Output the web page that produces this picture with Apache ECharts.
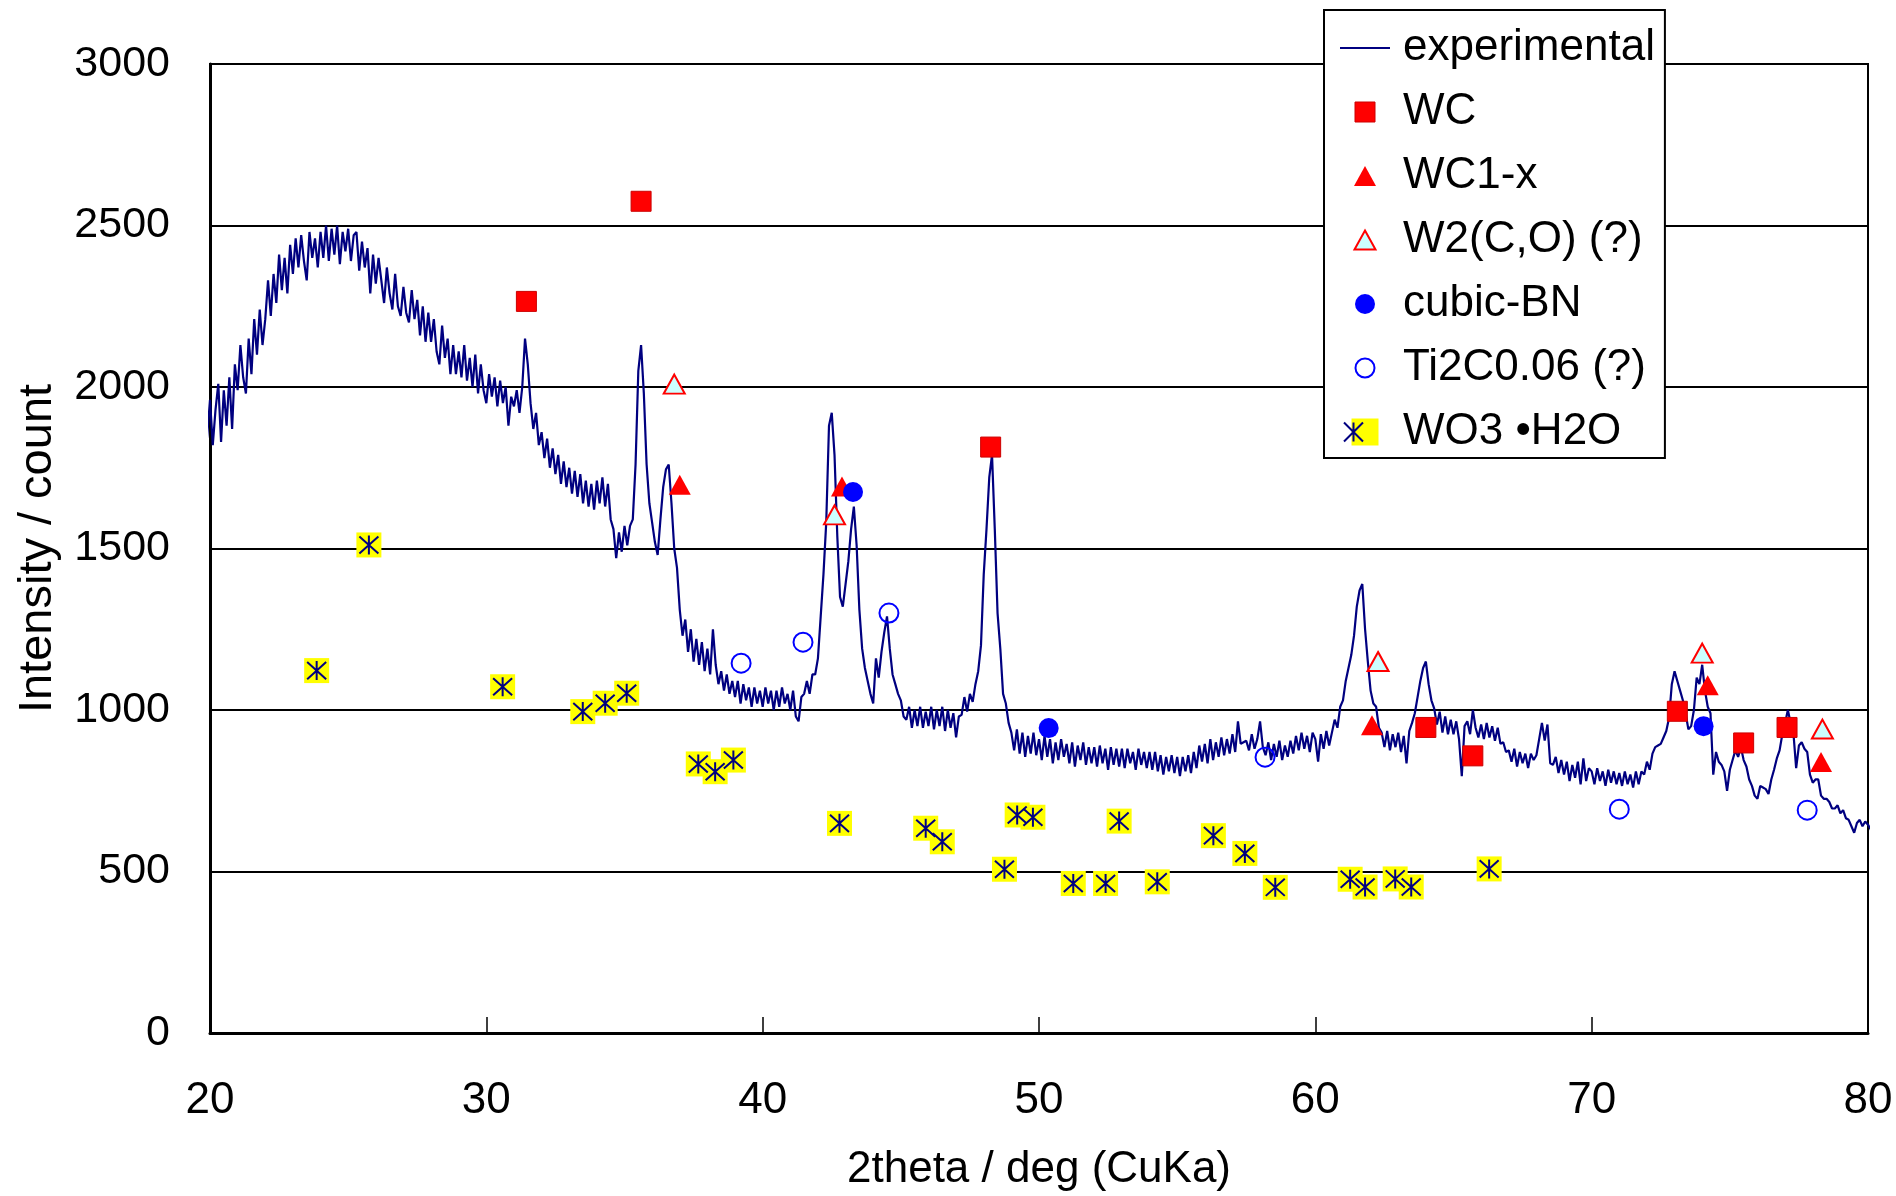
<!DOCTYPE html>
<html>
<head>
<meta charset="utf-8">
<script src="https://cdn.jsdelivr.net/npm/echarts@6/dist/echarts.min.js"></script>
<style>
html,body{margin:0;padding:0;background:#fff;}
#chart{width:1896px;height:1196px;}
</style>
</head>
<body>
<div id="chart"></div>
<script>
// ---- data ----
const xTicks = [20, 30, 40, 50, 60, 70, 80];
const yTicks = [0, 500, 1000, 1500, 2000, 2500, 3000];

// experimental scan: 2theta from 19.6 in steps of 0.1 deg
const scanStart = 19.6;
const scanStep = 0.1;
const experimental = [
  1780, 1690, 1770, 1850,
  1960, 1820, 1930, 2010, 1830, 1990, 1880, 2030, 1870, 2070,
  1990, 2130, 2030, 1980, 2150, 2040, 2210, 2100, 2240, 2130,
  2210, 2330, 2220, 2350, 2260, 2410, 2300, 2400, 2290, 2440,
  2350, 2460, 2370, 2470, 2390, 2330, 2480, 2400, 2460, 2370,
  2480, 2400, 2500, 2390, 2490, 2410, 2500, 2380, 2480, 2420,
  2490, 2390, 2470, 2480, 2360, 2450, 2370, 2430, 2290, 2410,
  2320, 2400, 2330, 2260, 2370, 2290, 2240, 2350, 2250, 2220,
  2310, 2230, 2200, 2300, 2210, 2270, 2160, 2250, 2140, 2230,
  2140, 2210, 2110, 2070, 2190, 2090, 2150, 2040, 2130, 2040,
  2110, 2030, 2130, 2020, 2090, 2000, 2100, 1980, 2070, 1990,
  1950, 2040, 1970, 2030, 1940, 2020, 1950, 2000, 1880, 1970,
  1940, 1990, 1920, 2000, 2150, 2070, 1950, 1870, 1920, 1820,
  1860, 1780, 1840, 1750, 1810, 1730, 1790, 1700, 1770, 1690,
  1750, 1670, 1740, 1660, 1730, 1640, 1710, 1630, 1700, 1620,
  1710, 1640, 1720, 1630, 1700, 1590, 1560, 1470, 1550, 1490,
  1570, 1510, 1570, 1590, 1760, 2050, 2130, 1980, 1760, 1640,
  1580, 1520, 1480, 1590, 1690, 1745, 1760, 1640, 1500, 1440,
  1310, 1230, 1280, 1180, 1250, 1150, 1220, 1140, 1210, 1120,
  1190, 1110, 1250, 1140, 1080, 1120, 1060, 1110, 1050, 1090,
  1040, 1090, 1020, 1080, 1030, 1070, 1010, 1070, 1020, 1060,
  1010, 1070, 1020, 1060, 1000, 1060, 1010, 1070, 1020, 1050,
  1000, 1060, 980, 965, 1040, 1050, 1090, 1050, 1110, 1110,
  1160, 1290, 1420, 1580, 1880, 1920, 1790, 1540, 1350, 1320,
  1390, 1460, 1560, 1630, 1510, 1310, 1190, 1130, 1090, 1050,
  1020, 1160, 1100, 1180, 1240, 1290, 1190, 1110, 1080, 1050,
  1030, 980, 970, 1010, 945, 1000, 950, 1010, 945, 995,
  950, 1010, 940, 1000, 950, 1010, 935, 1000, 945, 990,
  915, 980, 985, 1040, 995, 1050, 1025, 1080, 1120, 1200,
  1420, 1560, 1720, 1790, 1560, 1300, 1190, 1050, 1020, 960,
  930, 875, 940, 865, 930, 855, 920, 865, 930, 860,
  910, 845, 920, 855, 910, 835, 900, 845, 910, 855,
  895, 835, 900, 825, 890, 845, 900, 830, 885, 835,
  885, 825, 890, 835, 880, 815, 885, 830, 880, 825,
  880, 820, 880, 835, 870, 815, 880, 830, 870, 820,
  870, 815, 870, 810, 860, 800, 855, 810, 860, 805,
  855, 795, 855, 810, 860, 805, 870, 820, 890, 840,
  895, 835, 910, 845, 900, 855, 915, 860, 910, 865,
  925, 870, 965, 895, 900, 905, 875, 925, 880, 910,
  965, 885, 860, 900, 845, 895, 855, 905, 845, 890,
  855, 905, 865, 920, 875, 930, 880, 920, 870, 930,
  910, 840, 925, 880, 935, 890, 930, 970, 945, 1010,
  1030, 1090, 1130, 1170, 1230, 1320, 1370, 1390, 1250, 1150,
  1060, 1020, 1010, 945, 930, 885, 935, 875, 925, 885,
  930, 870, 920, 835, 935, 960, 990, 1040, 1090, 1130,
  1150, 1080, 1030, 1005, 955, 995, 930, 980, 925, 970,
  925, 965, 910, 795, 950, 965, 925, 1000, 945, 915,
  955, 910, 960, 915, 950, 905, 945, 895, 900, 870,
  875, 840, 880, 825, 870, 835, 865, 820, 865, 845,
  860, 910, 960, 905, 955, 835, 830, 855, 805, 845,
  800, 840, 780, 830, 790, 840, 770, 850, 780, 820,
  810, 770, 820, 780, 810, 765, 815, 775, 810, 770,
  805, 765, 810, 770, 800, 760, 810, 770, 810, 800,
  840, 815, 865, 885, 890, 895, 915, 935, 975, 1080,
  1120, 1090, 1060, 1030, 990, 940, 950, 1000, 1100, 1080,
  1140, 1060, 1010, 990, 800, 870, 840, 830, 810, 750,
  815, 845, 875, 855, 885, 845, 825, 785, 765, 735,
  725, 765, 760, 755, 740, 785, 815, 850, 875, 925,
  960, 1000, 960, 930, 820, 890, 900, 880, 870, 800,
  775, 785, 785, 735, 725, 725, 715, 695, 695, 705,
  680, 690, 665, 660, 640, 620, 650, 660, 640, 655,
  645, 630, 610, 640, 655
];

// reference peak markers [2theta, intensity]
const WC = [[31.45, 2265], [35.6, 2575], [48.25, 1814], [64.0, 946], [65.7, 858], [73.1, 996], [75.5, 898], [77.07, 946]];
const WC1x = [[37.0, 1697], [42.87, 1692], [62.05, 953], [74.2, 1077], [78.3, 839]];
const W2CO = [[36.8, 2009], [42.6, 1604], [62.27, 1150], [74.0, 1176], [78.35, 941]];
const cubicBN = [[43.27, 1675], [50.35, 944], [74.05, 950]];
const Ti2C = [[39.22, 1145], [41.46, 1210], [44.57, 1300], [58.18, 854], [71.0, 693], [77.8, 690]];
const WO3H2O = [[23.86, 1122], [25.75, 1511], [30.59, 1072], [33.49, 995], [34.3, 1021], [35.08, 1052],
  [37.67, 833], [38.28, 809], [38.94, 845], [42.78, 649], [45.9, 634], [46.5, 592], [48.75, 507],
  [49.21, 675], [49.78, 668], [51.24, 463], [52.41, 463], [52.9, 656], [54.28, 468], [56.31, 611],
  [57.45, 556], [58.55, 451], [61.26, 476], [61.8, 452], [62.89, 477], [63.47, 452], [66.29, 508]];

const seriesNames = ['experimental', 'WC', 'WC1-x', 'W2(C,O) (?)', 'cubic-BN', 'Ti2C0.06 (?)', 'WO3 \u2022H2O'];

// ---- chart ----
const FONT = '"Liberation Sans", Arial, sans-serif';
const expData = experimental.map((v, i) => [+(scanStart + i * scanStep).toFixed(2), v]);
const asterisk = 'path://M10 0L10 20M1 1L19 19M19 1L1 19';

const chart = echarts.init(document.getElementById('chart'), null, {renderer: 'canvas'});
chart.setOption({
  animation: false,
  backgroundColor: '#fff',
  grid: {left: 210, right: 28, top: 64, bottom: 163, show: true, borderColor: '#000', borderWidth: 2,
    backgroundColor: 'transparent', containLabel: false, outerBoundsMode: 'none'},
  xAxis: {
    type: 'value', min: xTicks[0], max: xTicks[xTicks.length - 1], interval: 10,
    name: '2theta / deg (CuKa)', nameLocation: 'middle', nameGap: 115, nameMoveOverlap: false,
    nameTextStyle: {fontSize: 44, color: '#000', fontFamily: FONT},
    axisLine: {show: true, lineStyle: {color: '#000', width: 3}},
    axisTick: {show: true, inside: true, length: 16, lineStyle: {color: '#000', width: 1.5}},
    axisLabel: {fontSize: 44, color: '#000', margin: 46, fontFamily: FONT},
    splitLine: {show: false}
  },
  yAxis: {
    type: 'value', min: yTicks[0], max: yTicks[yTicks.length - 1], interval: 500,
    name: 'Intensity / count', nameLocation: 'middle', nameGap: 148, nameMoveOverlap: false,
    nameTextStyle: {fontSize: 47, color: '#000', fontFamily: FONT},
    axisLine: {show: true, lineStyle: {color: '#000', width: 3}},
    axisTick: {show: true, inside: true, length: 16, lineStyle: {color: '#000', width: 2}},
    axisLabel: {fontSize: 43, color: '#000', margin: 40, fontFamily: FONT, formatter: v => String(v)},
    splitLine: {show: true, lineStyle: {color: '#000', width: 2}}
  },
  legend: [{
    orient: 'vertical', left: 1324, top: 10, padding: [16, 10, 4, 15],
    itemGap: 20, itemWidth: 50, itemHeight: 27,
    backgroundColor: '#fff', borderColor: '#000', borderWidth: 2,
    selectedMode: false,
    textStyle: {fontSize: 44, color: '#000', fontFamily: FONT, padding: [0, 0, 0, 8]},
    data: [
      {name: seriesNames[0], itemStyle: {opacity: 0}, lineStyle: {color: '#000080', width: 2, opacity: 1}},
      {name: seriesNames[1], icon: 'path://M0 0M27 27M3.5 3.5L23.5 3.5L23.5 23.5L3.5 23.5Z', itemStyle: {color: '#ff0000', borderColor: '#cc0000', borderWidth: 1}},
      {name: seriesNames[2], icon: 'path://M0 0M27 27M13.5 3.5L24.5 23.5L2.5 23.5Z', itemStyle: {color: '#ff0000', borderWidth: 0}},
      {name: seriesNames[3], icon: 'path://M0 0M27 27M13.5 4L24 23L3 23Z', itemStyle: {color: '#ccffff', borderColor: '#ff0000', borderWidth: 2}},
      {name: seriesNames[4], icon: 'path://M0 0M27 27M3.5 13.5A10 10 0 1 1 23.5 13.5A10 10 0 1 1 3.5 13.5Z', itemStyle: {color: '#0000ff', borderWidth: 0}},
      {name: seriesNames[5], icon: 'path://M0 0M27 27M4 13.5A9.5 9.5 0 1 1 23 13.5A9.5 9.5 0 1 1 4 13.5Z', itemStyle: {color: 'rgba(0,0,0,0)', borderColor: '#0000ff', borderWidth: 2}},
      {name: seriesNames[6], icon: 'path://M0 0L27 0L27 27L0 27Z', itemStyle: {color: '#ffff00', borderWidth: 0}}
    ]
  }, {
    orient: 'vertical', left: 1324, top: 10 + 6 * 64, padding: [16, 10, 4, 15],
    itemGap: 20, itemWidth: 50, itemHeight: 27,
    backgroundColor: 'transparent', borderWidth: 0,
    selectedMode: false,
    textStyle: {fontSize: 44, color: 'rgba(0,0,0,0)', fontFamily: FONT, padding: [0, 0, 0, 8]},
    data: [
      {name: seriesNames[6], icon: 'path://M0 0M27 27M13.5 4L13.5 23M4 4L23 23M23 4L4 23', itemStyle: {color: 'rgba(0,0,0,0)', borderColor: '#000080', borderWidth: 2}}
    ]
  }],
  series: [
    {name: seriesNames[0], type: 'line', data: expData, symbol: 'none', showSymbol: false, clip: false,
      lineStyle: {color: '#000080', width: 2.2}, itemStyle: {color: '#000080'}, z: 1},
    {name: seriesNames[1], type: 'scatter', data: WC, symbol: 'rect', symbolSize: 20,
      itemStyle: {color: '#ff0000', borderColor: '#cc0000', borderWidth: 1, opacity: 1}, z: 3},
    {name: seriesNames[2], type: 'scatter', data: WC1x, symbol: 'triangle', symbolSize: [22, 20],
      itemStyle: {color: '#ff0000', opacity: 1}, z: 3},
    {name: seriesNames[3], type: 'scatter', data: W2CO, symbol: 'triangle', symbolSize: [21, 19],
      itemStyle: {color: '#ccffff', borderColor: '#ff0000', borderWidth: 2, opacity: 1}, z: 3},
    {name: seriesNames[4], type: 'scatter', data: cubicBN, symbol: 'circle', symbolSize: 20,
      itemStyle: {color: '#0000ff', opacity: 1}, z: 3},
    {name: seriesNames[5], type: 'scatter', data: Ti2C, symbol: 'circle', symbolSize: 19,
      itemStyle: {color: 'rgba(0,0,0,0)', borderColor: '#0000ff', borderWidth: 2, opacity: 1}, z: 3},
    {name: seriesNames[6], type: 'scatter', data: WO3H2O, symbol: 'rect', symbolSize: 25,
      itemStyle: {color: '#ffff00', opacity: 1}, z: 3},
    {name: 'WO3 star', type: 'scatter', data: WO3H2O, symbol: asterisk, symbolSize: 19,
      itemStyle: {color: 'rgba(0,0,0,0)', borderColor: '#000080', borderWidth: 2, opacity: 1}, z: 4}
  ]
});
</script>
</body>
</html>
